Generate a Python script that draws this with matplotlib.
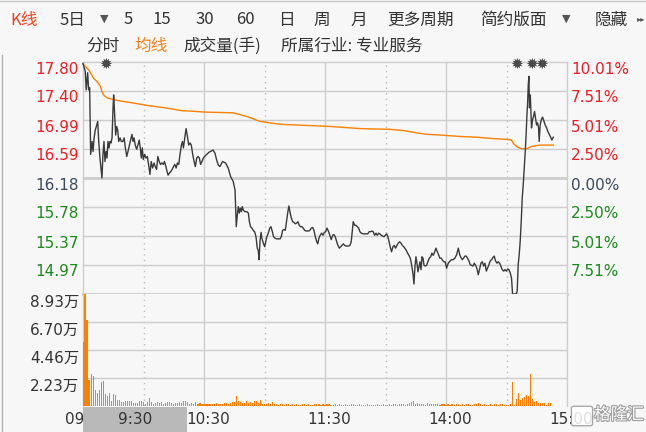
import matplotlib
matplotlib.use("Agg")
import matplotlib.pyplot as plt
import matplotlib.transforms as mtransforms
from matplotlib.patches import Rectangle, FancyBboxPatch
import matplotlib.patheffects as pe

# ---------------- data ----------------
prev_close = 16.18
price_ticks = [17.80, 17.40, 16.99, 16.59, 16.18, 15.78, 15.37, 14.97]
pct_labels = ['10.01%', '7.51%', '5.01%', '2.50%', '0.00%', '2.50%', '5.01%', '7.51%']
price_low, price_high = 14.56, 17.80

vol_ticks = [89300, 67000, 44600, 22300]
vol_labels = ['8.93万', '6.70万', '4.46万', '2.23万']

xtick_min = [0, 60, 120, 180, 240]
xtick_labels = ['09:30', '10:30', '11:30', '14:00', '15:00']
cursor_label = '9:30'

# minutes since 09:30 (lunch break removed) and last price
minute = [
    0, 1.1, 1.6, 2.3, 2.8, 3.3, 3.8, 4.5, 5.0, 5.5,
    6.1, 6.8, 7.3, 7.8, 8.4, 8.9, 9.4, 9.9, 10.4, 10.9,
    11.4, 11.9, 12.4, 12.9, 13.4, 13.9, 14.4, 14.9, 15.2, 15.7,
    16.2, 16.7, 17.2, 17.7, 18.4, 19.0, 19.7, 20.4, 21.0, 21.7,
    22.3, 23.0, 23.6, 24.3, 24.8, 25.3, 25.9, 26.6, 27.2, 27.9,
    28.4, 28.9, 29.4, 29.9, 30.6, 31.2, 31.9, 32.5, 33.2, 33.8,
    34.5, 35.2, 35.8, 36.5, 37.1, 37.8, 38.4, 39.1, 39.8, 40.4,
    41.1, 41.7, 42.2, 42.9, 43.6, 44.2, 44.9, 45.5, 46.2, 46.8,
    47.5, 48.1, 48.8, 49.3, 49.8, 50.5, 51.1, 51.8, 52.4, 53.1,
    53.7, 54.4, 55.1, 55.7, 56.4, 57.0, 57.7, 58.3, 59.0, 59.7,
    61.0, 62.5, 64.5, 65.4, 66.3, 67.1, 67.9, 69.2, 70.7, 72.0,
    73.2, 74.5, 75.4, 75.7, 76.0, 76.5, 77.0, 77.5, 78.0, 78.5,
    79.0, 79.5, 80.3, 81.2, 82.0, 82.5, 83.1, 83.8, 84.4, 85.1,
    85.8, 86.4, 86.9, 87.3, 87.8, 88.3, 88.7, 89.4, 90.1, 90.6,
    91.2, 91.9, 92.6, 93.2, 93.9, 94.5, 95.2, 96.0, 96.8, 97.7,
    98.3, 99.0, 99.7, 100.3, 101.0, 101.6, 102.1, 102.6, 103.3, 104.0,
    104.6, 105.3, 105.9, 106.6, 107.2, 107.9, 108.6, 109.2, 109.9, 110.6,
    111.2, 111.9, 112.5, 113.2, 113.9, 114.5, 115.2, 115.9, 116.4, 117.0,
    117.6, 118.3, 119.0, 119.6, 120.3, 121.0, 121.8, 122.6, 123.1, 123.8,
    124.4, 125.1, 125.8, 126.4, 127.1, 127.8, 128.4, 129.1, 129.7, 130.4,
    131.1, 131.7, 132.4, 133.0, 133.5, 134.0, 134.7, 135.3, 136.0, 136.7,
    137.3, 138.0, 139.0, 140.0, 141.2, 141.9, 142.6, 143.3, 143.9, 144.6,
    145.3, 145.9, 146.6, 147.2, 147.9, 148.6, 149.2, 149.9, 150.6, 151.2,
    151.9, 152.5, 153.0, 153.7, 154.3, 155.0, 155.7, 156.3, 157.0, 157.7,
    158.3, 159.0, 159.6, 160.3, 161.0, 161.6, 162.3, 162.8, 163.3, 163.6,
    164.1, 164.6, 165.1, 165.6, 166.1, 166.6, 167.1, 167.6, 168.1, 168.6,
    169.1, 169.7, 170.4, 171.0, 171.7, 172.4, 173.0, 173.7, 174.4, 175.0,
    175.7, 176.4, 177.0, 177.7, 178.3, 179.0, 179.6, 180.3, 181.1, 182.0,
    182.8, 183.6, 184.4, 185.3, 186.1, 186.8, 187.4, 188.1, 188.7, 189.4,
    190.0, 190.7, 191.4, 192.0, 192.7, 193.4, 194.0, 194.7, 195.3, 196.0,
    196.7, 197.3, 198.0, 198.7, 199.3, 200.0, 200.6, 201.3, 201.9, 202.6,
    203.3, 203.9, 204.6, 205.3, 205.9, 206.6, 207.2, 207.9, 208.6, 209.2,
    209.9, 210.6, 211.2, 211.9, 212.5, 213.0, 214.8, 215.3, 215.8, 216.3,
    216.8, 217.3, 217.8, 218.3, 218.8, 219.3, 219.8, 220.1, 220.5, 220.8,
    221.1, 221.4, 221.8, 222.1, 222.4, 222.9, 223.4, 223.9, 224.4, 224.9,
    225.4, 225.9, 226.2, 226.7, 227.2, 227.9, 228.6, 229.2, 229.9, 230.5,
    231.2, 231.9, 232.5, 233.2,
]
price = [
    17.78, 17.67, 17.41, 17.65, 17.41, 17.44, 16.51, 16.69, 16.55, 16.74,
    16.85, 16.92, 16.97, 16.69, 16.46, 16.32, 16.18, 16.51, 16.69, 16.41,
    16.55, 16.46, 16.69, 16.60, 16.69, 16.67, 16.74, 17.16, 17.34, 17.06,
    16.78, 16.90, 16.85, 16.69, 16.74, 16.69, 16.69, 16.74, 16.60, 16.48,
    16.55, 16.64, 16.71, 16.79, 16.69, 16.74, 16.64, 16.58, 16.64, 16.71,
    16.60, 16.46, 16.60, 16.44, 16.51, 16.46, 16.48, 16.37, 16.23, 16.41,
    16.32, 16.39, 16.34, 16.30, 16.48, 16.41, 16.37, 16.39, 16.37, 16.41,
    16.34, 16.27, 16.22, 16.25, 16.27, 16.30, 16.34, 16.37, 16.32, 16.39,
    16.37, 16.51, 16.64, 16.69, 16.60, 16.74, 16.87, 16.76, 16.64, 16.67,
    16.64, 16.51, 16.41, 16.34, 16.46, 16.48, 16.46, 16.37, 16.41, 16.46,
    16.50, 16.54, 16.57, 16.53, 16.43, 16.36, 16.34, 16.41, 16.39, 16.32,
    16.20, 16.13, 16.01, 15.76, 15.50, 15.66, 15.78, 15.69, 15.76, 15.71,
    15.78, 15.73, 15.71, 15.71, 15.69, 15.57, 15.50, 15.48, 15.45, 15.43,
    15.36, 15.20, 15.17, 15.04, 15.31, 15.42, 15.34, 15.27, 15.22, 15.29,
    15.36, 15.41, 15.48, 15.50, 15.43, 15.36, 15.34, 15.33, 15.33, 15.33,
    15.36, 15.45, 15.46, 15.45, 15.59, 15.71, 15.79, 15.71, 15.62, 15.57,
    15.56, 15.54, 15.55, 15.57, 15.52, 15.50, 15.50, 15.48, 15.45, 15.44,
    15.44, 15.44, 15.45, 15.48, 15.49, 15.45, 15.36, 15.29, 15.26, 15.34,
    15.38, 15.41, 15.38, 15.42, 15.43, 15.48, 15.43, 15.36, 15.32, 15.38,
    15.39, 15.36, 15.29, 15.24, 15.20, 15.22, 15.24, 15.26, 15.24, 15.23,
    15.23, 15.23, 15.24, 15.29, 15.43, 15.57, 15.52, 15.52, 15.50, 15.48,
    15.43, 15.41, 15.40, 15.40, 15.40, 15.43, 15.43, 15.44, 15.43, 15.38,
    15.41, 15.38, 15.41, 15.40, 15.38, 15.37, 15.36, 15.38, 15.40, 15.36,
    15.27, 15.20, 15.15, 15.22, 15.24, 15.20, 15.24, 15.27, 15.29, 15.27,
    15.24, 15.22, 15.20, 15.17, 15.13, 15.10, 15.06, 14.99, 14.90, 14.85,
    14.70, 14.94, 15.08, 14.99, 14.87, 14.94, 15.01, 14.90, 15.08, 15.06,
    14.96, 14.95, 14.96, 15.01, 15.06, 15.08, 15.13, 15.10, 15.15, 15.20,
    15.15, 15.10, 15.06, 15.06, 15.03, 15.01, 15.01, 14.92, 14.99, 15.02,
    15.04, 15.04, 15.06, 15.11, 15.20, 15.11, 15.07, 15.04, 15.06, 15.09,
    15.09, 15.06, 15.02, 14.97, 14.96, 14.95, 14.99, 14.96, 14.92, 14.83,
    14.91, 14.99, 15.01, 14.95, 14.99, 14.88, 14.92, 14.97, 15.02, 15.04,
    15.07, 15.09, 15.02, 14.99, 15.01, 14.99, 14.95, 14.90, 14.88, 14.90,
    14.88, 14.91, 14.90, 14.85, 14.78, 14.56, 14.56, 14.60, 14.97, 15.11,
    15.30, 15.57, 15.90, 16.09, 16.32, 16.55, 16.83, 17.04, 17.25, 17.48,
    17.60, 17.16, 17.34, 17.11, 16.88, 16.99, 17.04, 17.11, 17.02, 16.92,
    16.95, 16.88, 16.69, 16.92, 16.99, 17.03, 16.97, 16.92, 16.88, 16.83,
    16.79, 16.75, 16.71, 16.75,
]

avg_minute = [0, 2.8, 5.3, 6.9, 8.6, 9.4, 10.2, 11.9, 14.4, 17.7,
              24.3, 32.6, 40.8, 49.1, 55.7, 61.0, 74.5, 81.2, 87.8, 97.7,
              106.0, 122.5, 137.3, 152.2, 159.6, 165.4, 170.4, 177.0, 186.9, 195.2,
              203.4, 210.0, 212.5, 213.5, 215.5, 217.5, 220.0, 222.4, 226.6, 233.2]
avg_price = [17.77, 17.69, 17.57, 17.53, 17.46, 17.39, 17.34, 17.30, 17.28, 17.26,
             17.23, 17.19, 17.16, 17.12, 17.11, 17.10, 17.09, 17.04, 16.97, 16.93,
             16.92, 16.90, 16.87, 16.86, 16.84, 16.81, 16.79, 16.78, 16.76, 16.75,
             16.73, 16.72, 16.71, 16.66, 16.61, 16.59, 16.59, 16.62, 16.64, 16.64]

# volume per minute (手)
volume = [
    50700, 89300, 68400, 20900, 25700, 24100, 12900, 10500, 12900, 19300,
    20100, 9700, 8000, 10500, 4000, 9700, 8800, 4800, 4800, 3200,
    2800, 4000, 4000, 3600, 4000, 2000, 2000, 2000, 3600, 3600,
    2800, 1800, 2800, 6400, 2800, 1400, 2000, 2800, 2000, 2800,
    1400, 2000, 2800, 2800, 2000, 1400, 2000, 2000, 2800, 2000,
    3600, 3600, 2800, 1400, 2000, 1400, 2800, 1400, 2000, 1400,
    1400, 1600, 1200, 1600, 1200, 1600, 2000, 1200, 1600, 1200,
    2000, 2400, 1600, 2400, 2800, 3200, 8000, 4000, 3200, 2400,
    2400, 4000, 2400, 3200, 2400, 3600, 4000, 2400, 4800, 1600,
    1200, 1600, 2400, 1200, 3200, 1200, 1200, 800, 1200, 1600,
    800, 1200, 1600, 800, 1200, 800, 1200, 800, 800, 1200,
    1600, 800, 1200, 800, 800, 1200, 1600, 1200, 800, 1200,
    800, 1200, 1600, 800, 800, 1200, 800, 1200, 800, 800,
    1200, 800, 800, 1200, 1600, 800, 800, 1200, 800, 800,
    800, 1200, 800, 800, 800, 800, 1200, 800, 800, 1200,
    800, 800, 1200, 800, 1600, 1200, 800, 1200, 1600, 1200,
    800, 1600, 2400, 3200, 4000, 1600, 2400, 1600, 1200, 1600,
    800, 2400, 1200, 1600, 1600, 1600, 1200, 800, 1200, 1200,
    800, 1200, 800, 1200, 800, 1200, 1600, 800, 1200, 800,
    1200, 1600, 800, 800, 1200, 1600, 2000, 1200, 800, 1200,
    800, 800, 1200, 800, 1600, 1200, 800, 1200, 1600, 800,
    800, 800, 1200, 19300, 800, 5600, 10500, 4800, 6400, 7200,
    8800, 8000, 25700, 5600, 3200, 4000, 2400, 2700, 2700, 2700,
    800, 2200, 2700,
]
vol_minute = list(range(len(volume)))

event_minute = [11.1, 215.2, 222.3, 227.4]

assert len(minute) == len(price)
assert len(avg_minute) == len(avg_price)

# ---------------- style ----------------
W, H = 646, 432
BG = '#f7f7f7'
GRID = '#cdcdcd'
RED = '#ee1c24'
GREEN = '#1b8a1b'
NEUTRAL = '#3d4a5c'
DARK = '#333333'
ORANGE = '#ff8000'
CJK = ['Noto Sans CJK SC', 'DejaVu Sans']
NUM = ['DejaVu Sans', 'Noto Sans CJK SC']

fig = plt.figure(figsize=(W / 100, H / 100), dpi=100)
fig.patch.set_facecolor(BG)

L, R = 83, 567
T, MID, B = 62, 294, 406

axp = fig.add_axes([L / W, 1 - MID / H, (R - L) / W, (MID - T) / H])
axv = fig.add_axes([L / W, 1 - B / H, (R - L) / W, (B - MID) / H])

for ax in (axp, axv):
    ax.set_facecolor(BG)
    ax.set_xlim(0, 240)
    ax.set_xticks([])
    ax.set_yticks([])
    for s in ax.spines.values():
        s.set_color(GRID)
        s.set_linewidth(1.0)

axp.set_ylim(price_low, price_high)
axv.set_ylim(0, vol_ticks[0])
axp.spines['bottom'].set_linewidth(2.0)
axv.spines['top'].set_visible(False)
axv.spines['bottom'].set_visible(False)

# vertical grid lines
for ax in (axp, axv):
    for m in [60, 120, 180]:
        ax.axvline(m, color=GRID, lw=1.0, zorder=1)
    for m in [30, 90, 150, 210]:
        ax.axvline(m, color='#bcbcbc', lw=1.0, ls=(0, (1, 3)), zorder=1)

# horizontal grid lines
for v in price_ticks[1:]:
    axp.axhline(v, color=GRID, lw=2.0 if v == prev_close else 1.0, zorder=1)
for v in vol_ticks[1:]:
    axv.axhline(v, color=GRID, lw=1.0, zorder=1)

# lines
axp.plot(avg_minute, avg_price, color=ORANGE, lw=1.0, zorder=3, clip_on=False)
axp.plot(minute, price, color='#3a3a3a', lw=1.0, zorder=4, clip_on=False)

# volume bars
axv.bar(vol_minute, volume, width=0.55, color=ORANGE, align='center', zorder=3,
        linewidth=0)

# event markers
for m in event_minute:
    axp.text(m, 17.775, '✹', fontsize=11, color='#4a4a4a', ha='center', va='center',
             family=['DejaVu Sans'], zorder=6, clip_on=False)

# y labels
off = mtransforms.ScaledTranslation(0, -0.07, fig.dpi_scale_trans)
tl = mtransforms.blended_transform_factory(fig.transFigure, axp.transData) + off
for v, pl in zip(price_ticks, pct_labels):
    c = RED if v > prev_close else (NEUTRAL if v == prev_close else GREEN)
    fig.text(79 / W, v, f'{v:.2f}', transform=tl, ha='right', va='center',
             fontsize=11, color=c, family=NUM)
    fig.text(571 / W, v, pl, transform=tl, ha='left', va='center',
             fontsize=11, color=c, family=NUM)
tv = mtransforms.blended_transform_factory(fig.transFigure, axv.transData) + \
    mtransforms.ScaledTranslation(0, -0.08, fig.dpi_scale_trans)
for v, lab in zip(vol_ticks, vol_labels):
    fig.text(79 / W, v, lab, transform=tv, ha='right', va='center',
             fontsize=11, color=DARK, family=NUM)

# x labels
tx = mtransforms.blended_transform_factory(axv.transData, fig.transFigure) + \
    mtransforms.ScaledTranslation(0.04, 0, fig.dpi_scale_trans)
for m, lab in zip(xtick_min, xtick_labels):
    fig.text(m, 1 - 419 / H, lab, transform=tx, ha='center', va='center',
             fontsize=11, color=DARK, family=NUM)

# cursor time box
fig.patches.append(Rectangle((L / W, 0), (187 - L) / W, (H - 407) / H,
                             transform=fig.transFigure, facecolor='#b9b9b9',
                             edgecolor='none', zorder=5))
fig.text(135 / W, 1 - 419 / H, cursor_label, ha='center', va='center',
         fontsize=11, color=DARK, family=NUM, zorder=6)

# header
row1 = [('K线', 10, '#f0441c'), ('5日', 60, DARK), ('5', 124, DARK), ('15', 153, DARK),
        ('30', 195, DARK), ('60', 236, DARK), ('日', 278, DARK), ('周', 313, DARK),
        ('月', 350, DARK), ('更多周期', 387, DARK), ('简约版面', 480, DARK),
        ('隐藏', 595, DARK)]
for s, x, c in row1:
    fig.text(x / W, 1 - 20 / H, s, ha='left', va='center', fontsize=12, color=c,
             family=CJK)
for x in (100, 562):
    fig.text(x / W, 1 - 19 / H, '▼', ha='left', va='center', fontsize=8,
             color='#555555', family=['DejaVu Sans'])
fig.text(637 / W, 1 - 19 / H, '▸▸', ha='left', va='center', fontsize=6,
         color='#555555', family=['DejaVu Sans'])

row2 = [('分时', 86, DARK), ('均线', 134, '#f0841c'), ('成交量(手)', 183, DARK),
        ('所属行业: 专业服务', 281, DARK)]
for s, x, c in row2:
    fig.text(x / W, 1 - 46 / H, s, ha='left', va='center', fontsize=12, color=c,
             family=CJK)

# window borders
fig.add_artist(plt.Line2D([0, 1], [1 - 0.5 / H, 1 - 0.5 / H], transform=fig.transFigure,
                          color='#c8c8c8', lw=1.0))
fig.add_artist(plt.Line2D([1.5 / W, 1.5 / W], [0, 1 - 55 / H], transform=fig.transFigure,
                          color='#b0b0b0', lw=1.0))

# watermark
fig.patches.append(FancyBboxPatch((574 / W, 1 - 424 / H), 16 / W, 16 / H,
                                  boxstyle='round,pad=0.004', transform=fig.transFigure,
                                  facecolor='white', edgecolor='#9a9a9a', lw=1.0,
                                  alpha=0.85, zorder=7))
wm = fig.text(594 / W, 1 - 415 / H, '格隆汇', ha='left', va='center', fontsize=12,
              color='white', family=CJK, zorder=8, alpha=0.95)
wm.set_path_effects([pe.withStroke(linewidth=1.6, foreground='#9a9a9a')])

fig.savefig('out.png', dpi=100, facecolor=BG)
